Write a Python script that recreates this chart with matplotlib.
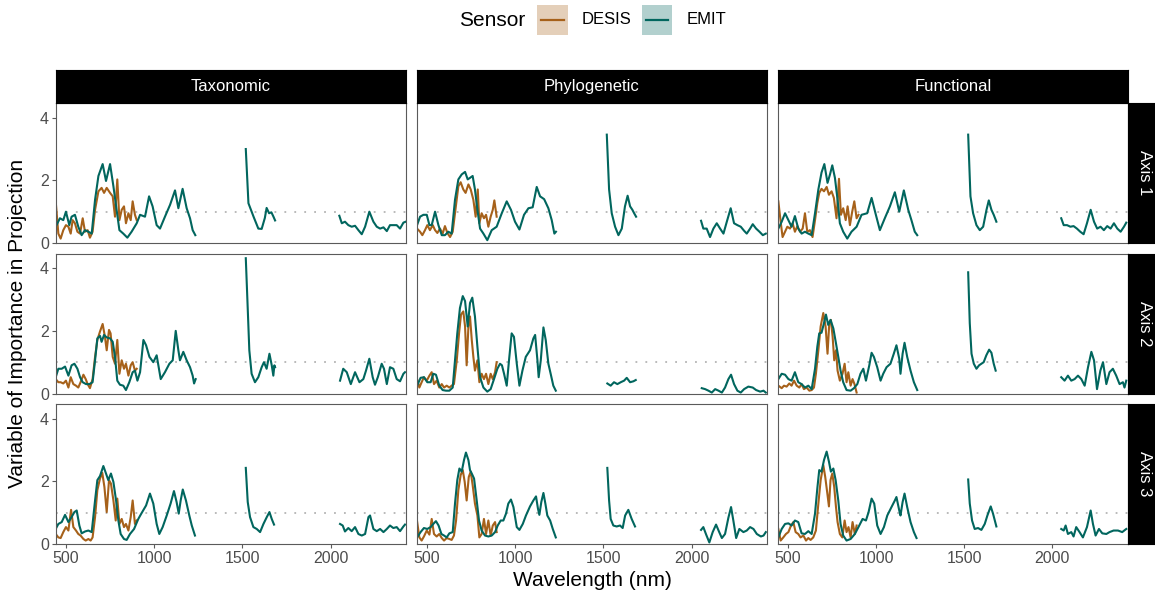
import numpy as np
import matplotlib
matplotlib.use("Agg")
from matplotlib import pyplot as plt
from matplotlib.patches import Rectangle
from matplotlib.lines import Line2D

plt.rcParams['font.family'] = ['Liberation Sans', 'DejaVu Sans']

metrics = ["Taxonomic", "Phylogenetic", "Functional"]
pls_axes = ["Axis 1", "Axis 2", "Axis 3"]
sensors = ["DESIS", "EMIT"]
sensor_colors = ["#a6611a", "#01665e"]
x_ticks = [500, 1000, 1500, 2000]
y_ticks = [0, 2, 4]
vip_threshold = 1.0

# ---- Taxonomic ----
tax1_emit_nm = [443, 467, 486, 501, 520, 533, 552, 571, 590, 609, 628, 647, 666, 685, 709, 728, 751, 770, 788, 804,
                826, 849, 873, 902, 921, 949, 972, 992, 1015, 1034, 1062, 1091, 1119, 1138, 1162, 1185, 1204, 1219, 1234,
                1520, 1535, 1564, 1591, 1610, 1628, 1638, 1652, 1665, 1676, 1686,
                2050, 2064, 2082, 2101, 2120, 2139, 2158, 2177, 2196, 2220, 2243, 2262, 2281, 2300, 2319, 2337, 2356,
                2375, 2394, 2413, 2426]
tax1_emit_vip = [0.52, 0.79, 0.73, 1.00, 0.57, 0.84, 0.90, 0.52, 0.25, 0.41, 0.36, 0.30, 1.38, 2.14, 2.52, 1.98, 2.52,
                 1.81, 1.06, 0.41, 0.30, 0.17, 0.36, 0.63, 0.90, 0.84, 1.49, 1.17, 0.57, 0.46, 0.84, 1.22, 1.68, 1.11,
                 1.73, 1.11, 0.79, 0.41, 0.25,
                 3.00, 1.27, 0.84, 0.46, 0.45, 0.80, 1.12, 0.95, 0.98, 0.85, 0.72,
                 0.87, 0.63, 0.68, 0.57, 0.52, 0.55, 0.41, 0.28, 0.52, 1.00, 0.68, 0.52, 0.46, 0.50, 0.38, 0.57, 0.57,
                 0.57, 0.46, 0.65, 0.68]
tax1_desis_nm = [443, 458, 471, 486, 501, 515, 528, 539, 552, 566, 581, 596, 609, 624, 637, 652, 666, 685, 703, 717,
                 732, 751, 766, 779, 792, 804, 817, 830, 841, 855, 868, 879, 892, 902]
tax1_desis_vip = [1.33, 0.30, 0.14, 0.41, 0.57, 0.52, 0.30, 0.73, 0.63, 0.36, 0.30, 0.79, 0.36, 0.41, 0.17, 0.36,
                  1.06, 1.65, 1.76, 1.60, 1.76, 1.60, 1.49, 0.84, 2.03, 0.73, 1.06, 1.17, 0.63, 0.95, 0.73, 1.33,
                  0.90, 0.73]

tax2_emit_nm = [443, 458, 477, 496, 515, 533, 549, 566, 581, 596, 615, 634, 652, 666, 679, 694, 703, 717, 732, 751,
                766, 779, 792, 807, 826, 841, 860, 879, 892, 906, 921, 940, 955, 974, 996, 1015, 1038, 1062, 1087,
                1106, 1123, 1138, 1147, 1166, 1185, 1204, 1219, 1227, 1236,
                1520, 1529, 1540, 1553, 1572, 1591, 1610, 1623, 1638, 1654, 1667, 1676, 1682, 1686,
                2054, 2072, 2092, 2115, 2139, 2164, 2186, 2201, 2220, 2239, 2252, 2268, 2290, 2303, 2319, 2337, 2356,
                2375, 2394, 2413, 2422]
tax2_emit_vip = [0.52, 0.79, 0.79, 0.86, 0.57, 0.90, 0.95, 0.79, 0.52, 0.36, 0.30, 0.30, 0.36, 1.06, 1.76, 1.84, 1.65,
                 1.87, 1.79, 1.76, 1.65, 1.17, 0.41, 0.28, 0.25, 0.11, 0.36, 0.68, 0.73, 0.41, 0.68, 1.71, 1.54, 1.17,
                 1.00, 1.22, 0.46, 0.68, 0.95, 1.06, 2.00, 1.38, 1.06, 1.33, 1.06, 0.84, 0.57, 0.32, 0.46,
                 4.32, 3.00, 1.38, 0.63, 0.36, 0.52, 0.84, 1.00, 0.79, 1.27, 0.90, 0.57, 0.90, 0.84,
                 0.41, 0.79, 0.68, 0.30, 0.68, 0.36, 0.46, 0.73, 1.11, 0.52, 0.28, 0.52, 0.95, 0.79, 0.30, 0.84, 0.79,
                 0.46, 0.39, 0.63, 0.68]
tax2_desis_nm = [443, 458, 471, 486, 501, 515, 528, 543, 558, 571, 584, 600, 613, 624, 637, 652, 666, 679, 694, 709,
                 722, 732, 745, 754, 766, 779, 792, 804, 817, 830, 841, 855, 868, 879, 892, 902]
tax2_desis_vip = [0.46, 0.36, 0.36, 0.32, 0.41, 0.19, 0.52, 0.30, 0.25, 0.19, 0.36, 0.60, 0.46, 0.30, 0.17, 0.46,
                  1.17, 1.71, 1.98, 2.22, 1.81, 1.38, 2.03, 1.92, 1.17, 0.95, 1.71, 0.63, 1.06, 0.79, 0.95, 0.57,
                  0.90, 1.00, 0.73, 0.79]

tax3_emit_nm = [443, 458, 477, 496, 515, 533, 549, 562, 577, 590, 609, 628, 647, 666, 679, 694, 713, 728, 741, 756,
                770, 785, 798, 811, 830, 845, 864, 887, 911, 930, 955, 977, 996, 1015, 1030, 1049, 1072, 1094, 1113,
                1128, 1140, 1151, 1163, 1181, 1200, 1214, 1232,
                1520, 1531, 1544, 1563, 1582, 1601, 1620, 1639, 1654, 1667, 1680,
                2054, 2069, 2082, 2101, 2120, 2139, 2158, 2177, 2196, 2215, 2224, 2243, 2262, 2281, 2300, 2319, 2337,
                2356, 2375, 2394, 2413, 2422]
tax3_emit_vip = [0.48, 0.64, 0.70, 0.93, 0.70, 0.86, 1.02, 1.07, 0.59, 0.34, 0.40, 0.43, 0.38, 1.39, 2.04, 2.17, 2.49,
                 2.25, 2.04, 2.25, 1.98, 1.39, 0.75, 0.32, 0.16, 0.13, 0.32, 0.48, 0.80, 0.99, 1.23, 1.61, 1.29, 0.64,
                 0.32, 0.54, 0.91, 1.29, 1.69, 1.34, 0.97, 1.39, 1.74, 1.39, 0.91, 0.59, 0.27,
                 2.43, 1.34, 0.86, 0.54, 0.48, 0.38, 0.64, 0.86, 1.02, 0.80, 0.62,
                 0.64, 0.59, 0.40, 0.51, 0.41, 0.54, 0.32, 0.27, 0.32, 0.86, 0.91, 0.48, 0.41, 0.48, 0.38, 0.48, 0.59,
                 0.51, 0.54, 0.41, 0.56, 0.62]
tax3_desis_nm = [443, 458, 471, 486, 501, 515, 530, 543, 558, 571, 584, 600, 613, 628, 641, 652, 666, 679, 694, 707,
                 719, 732, 745, 756, 770, 783, 792, 804, 817, 830, 841, 855, 868, 879, 892, 902]
tax3_desis_vip = [0.32, 0.21, 0.19, 0.38, 0.54, 0.43, 1.09, 0.54, 0.43, 0.32, 0.27, 0.16, 0.11, 0.16, 0.11, 0.21,
                  0.86, 1.72, 2.09, 2.27, 1.82, 1.02, 2.04, 1.93, 1.39, 0.75, 1.45, 0.64, 0.80, 0.54, 0.64, 0.43,
                  0.86, 1.39, 0.64, 0.75]

# ---- Phylogenetic ----
phy1_emit_nm = [445, 462, 481, 500, 515, 528, 547, 566, 585, 603, 622, 641, 660, 679, 698, 717, 732, 745, 760, 773,
                787, 802, 821, 843, 868, 896, 925, 953, 977, 1000, 1025, 1051, 1076, 1100, 1123, 1142, 1165, 1189,
                1208, 1223, 1232,
                1520, 1533, 1548, 1567, 1586, 1605, 1623, 1638, 1652, 1665, 1675, 1686,
                2054, 2067, 2086, 2105, 2124, 2143, 2162, 2181, 2200, 2222, 2241, 2260, 2279, 2298, 2313, 2332, 2347,
                2366, 2385, 2404, 2421]
phy1_emit_vip = [0.57, 0.84, 0.90, 0.90, 0.57, 0.57, 1.00, 0.57, 0.25, 0.25, 0.36, 0.30, 1.38, 2.03, 2.19, 2.27, 2.03,
                 2.08, 2.14, 1.71, 1.06, 0.46, 0.30, 0.09, 0.41, 0.52, 0.95, 1.33, 1.06, 0.68, 0.43, 0.90, 1.11, 1.14,
                 1.79, 1.49, 1.40, 1.11, 0.73, 0.30, 0.36,
                 3.46, 1.71, 0.95, 0.52, 0.25, 0.46, 1.17, 1.51, 1.17, 1.06, 0.95, 0.84,
                 0.71, 0.46, 0.46, 0.19, 0.46, 0.63, 0.46, 0.30, 0.68, 1.11, 0.63, 0.57, 0.52, 0.39, 0.30, 0.46, 0.60,
                 0.46, 0.36, 0.25, 0.30]
phy1_desis_nm = [445, 462, 475, 490, 503, 518, 534, 547, 560, 575, 590, 603, 617, 632, 647, 660, 679, 692, 707, 720,
                 736, 749, 764, 777, 789, 798, 811, 824, 836, 849, 862, 874, 883, 896]
phy1_desis_vip = [0.46, 0.36, 0.25, 0.41, 0.57, 0.41, 0.57, 0.41, 0.32, 0.46, 0.30, 0.54, 0.32, 0.19, 0.36, 0.95,
                  1.81, 1.94, 1.71, 1.60, 1.87, 1.71, 1.38, 0.84, 1.71, 0.63, 0.95, 0.79, 0.90, 0.52, 0.84, 1.06,
                  1.36, 0.84]

phy2_emit_nm = [445, 465, 484, 503, 522, 537, 552, 571, 590, 609, 628, 647, 660, 673, 688, 704, 717, 732, 745, 758,
                773, 787, 802, 821, 843, 862, 881, 900, 915, 926, 938, 953, 966, 981, 994, 1010, 1025, 1042, 1061,
                1085, 1104, 1114, 1127, 1134, 1146, 1161, 1174, 1189, 1202, 1217, 1231,
                1523, 1542, 1561, 1580, 1599, 1618, 1633, 1652, 1671, 1684,
                2058, 2077, 2096, 2115, 2134, 2153, 2172, 2190, 2209, 2224, 2241, 2260, 2279, 2298, 2322, 2347, 2366,
                2389, 2408, 2421]
phy2_emit_vip = [0.25, 0.50, 0.52, 0.36, 0.36, 0.63, 0.60, 0.25, 0.11, 0.09, 0.09, 0.19, 1.06, 1.92, 2.73, 3.11, 2.95,
                 2.14, 2.89, 3.06, 2.46, 1.49, 0.52, 0.19, 0.06, 0.14, 0.46, 0.79, 0.95, 0.90, 0.63, 0.25, 1.06, 1.92,
                 1.81, 0.95, 0.25, 0.73, 1.17, 1.38, 1.76, 1.87, 1.06, 0.52, 1.06, 2.11, 1.71, 0.95, 0.63, 0.25, 0.09,
                 0.32, 0.25, 0.36, 0.30, 0.36, 0.41, 0.50, 0.36, 0.39, 0.43,
                 0.17, 0.14, 0.09, 0.03, 0.14, 0.09, 0.03, 0.19, 0.46, 0.60, 0.30, 0.09, 0.03, 0.14, 0.22, 0.19, 0.11,
                 0.06, 0.09, 0.03]
phy2_desis_nm = [445, 458, 471, 484, 500, 515, 528, 541, 556, 571, 585, 598, 613, 628, 641, 654, 670, 683, 694, 707,
                 717, 726, 736, 745, 755, 764, 773, 787, 798, 811, 824, 836, 849, 862, 874, 887, 896]
phy2_desis_vip = [0.46, 0.19, 0.36, 0.52, 0.41, 0.57, 0.68, 0.30, 0.41, 0.19, 0.30, 0.19, 0.25, 0.19, 0.25, 0.30,
                  1.06, 1.92, 2.52, 2.62, 2.14, 0.90, 2.14, 2.46, 1.71, 1.17, 0.73, 1.06, 0.36, 0.63, 0.46, 0.63,
                  0.30, 0.63, 0.46, 0.68, 1.00]

phy3_emit_nm = [445, 465, 484, 503, 522, 537, 552, 567, 583, 598, 613, 628, 647, 660, 673, 685, 698, 711, 722, 736,
                745, 755, 768, 783, 796, 811, 830, 849, 868, 887, 902, 919, 934, 949, 962, 977, 991, 1010, 1025, 1044,
                1062, 1085, 1104, 1119, 1130, 1138, 1149, 1161, 1172, 1183, 1199, 1214, 1231,
                1523, 1533, 1542, 1557, 1576, 1595, 1610, 1624, 1642, 1661, 1680,
                2054, 2067, 2083, 2101, 2120, 2139, 2157, 2172, 2190, 2209, 2224, 2237, 2253, 2271, 2294, 2313, 2332,
                2351, 2370, 2393, 2408, 2421]
phy3_emit_vip = [0.21, 0.38, 0.51, 0.48, 0.54, 0.64, 0.73, 0.59, 0.32, 0.27, 0.21, 0.34, 0.38, 1.29, 2.04, 2.41, 2.31,
                 2.68, 2.92, 2.68, 2.36, 2.25, 2.09, 1.39, 0.75, 0.43, 0.27, 0.24, 0.27, 0.38, 0.59, 0.75, 0.75, 0.97,
                 1.29, 1.42, 1.18, 0.54, 0.45, 0.64, 0.91, 1.20, 1.39, 1.52, 1.13, 0.93, 1.34, 1.63, 1.29, 0.91, 0.75,
                 0.48, 0.21,
                 2.43, 1.39, 0.80, 0.59, 0.56, 0.59, 0.51, 0.91, 1.09, 0.80, 0.56,
                 0.45, 0.54, 0.30, 0.05, 0.38, 0.62, 0.38, 0.19, 0.32, 0.84, 1.18, 0.75, 0.19, 0.48, 0.38, 0.43, 0.54,
                 0.48, 0.32, 0.24, 0.27, 0.38]
phy3_desis_nm = [445, 458, 471, 484, 500, 515, 528, 541, 556, 571, 585, 598, 613, 628, 641, 654, 666, 679, 692, 704,
                 715, 726, 738, 749, 760, 773, 787, 798, 811, 824, 836, 849, 862, 874, 887, 896]
phy3_desis_vip = [0.73, 0.21, 0.11, 0.24, 0.43, 0.30, 0.80, 0.32, 0.24, 0.32, 0.19, 0.11, 0.19, 0.16, 0.13, 0.27,
                  0.75, 1.72, 2.20, 2.36, 1.98, 1.39, 2.14, 2.31, 1.88, 1.29, 0.91, 0.21, 0.32, 0.80, 0.32, 0.75,
                  0.27, 0.59, 0.70, 0.38]

# ---- Functional ----
fun1_emit_nm = [445, 464, 483, 502, 520, 539, 558, 577, 596, 615, 634, 653, 672, 690, 706, 724, 738, 751, 766, 781,
                794, 813, 836, 860, 889, 917, 949, 974, 996, 1021, 1049, 1078, 1106, 1131, 1157, 1182, 1200, 1219, 1233,
                1522, 1535, 1550, 1569, 1588, 1607, 1626, 1639, 1654, 1667, 1682,
                2050, 2064, 2083, 2102, 2120, 2139, 2158, 2177, 2196, 2217, 2236, 2254, 2273, 2292, 2311, 2330, 2349,
                2368, 2387, 2406, 2419]
fun1_emit_vip = [0.46, 0.68, 0.95, 0.73, 0.52, 0.86, 0.46, 0.30, 0.36, 0.30, 0.25, 0.95, 1.71, 2.25, 2.52, 1.92, 2.19,
                 2.48, 2.08, 1.38, 0.63, 0.36, 0.14, 0.36, 0.52, 0.90, 0.95, 1.44, 0.95, 0.41, 0.79, 1.17, 1.62, 1.00,
                 1.68, 1.06, 0.73, 0.36, 0.25,
                 3.46, 1.49, 0.95, 0.57, 0.41, 0.52, 1.06, 1.36, 1.06, 0.90, 0.68,
                 0.79, 0.57, 0.57, 0.52, 0.54, 0.46, 0.36, 0.28, 0.63, 1.06, 0.68, 0.46, 0.52, 0.41, 0.54, 0.46, 0.63,
                 0.46, 0.36, 0.52, 0.65]
fun1_desis_nm = [445, 458, 469, 483, 496, 511, 526, 539, 553, 568, 583, 596, 609, 624, 639, 653, 666, 677, 690, 704,
                 719, 732, 747, 760, 775, 789, 800, 813, 827, 838, 851, 864, 876, 889, 900]
fun1_desis_vip = [1.33, 0.68, 0.19, 0.36, 0.52, 0.46, 0.63, 0.36, 0.54, 0.36, 0.46, 0.95, 0.36, 0.41, 0.19, 0.73,
                  1.27, 1.60, 1.73, 1.65, 1.79, 1.54, 1.65, 1.44, 0.79, 2.05, 0.90, 1.11, 0.73, 1.17, 0.57, 1.00,
                  1.33, 0.79, 0.90]

fun2_emit_nm = [445, 464, 483, 502, 520, 539, 558, 577, 596, 615, 634, 653, 666, 677, 690, 704, 715, 728, 741, 757,
                772, 785, 798, 813, 832, 855, 874, 893, 911, 927, 942, 961, 974, 987, 1006, 1025, 1040, 1059, 1081,
                1100, 1115, 1131, 1138, 1150, 1161, 1176, 1195, 1214, 1233,
                1522, 1531, 1541, 1554, 1569, 1584, 1597, 1610, 1625, 1641, 1654, 1667, 1678,
                2050, 2069, 2088, 2107, 2126, 2145, 2164, 2183, 2202, 2221, 2236, 2253, 2272, 2287, 2306, 2324, 2343,
                2362, 2381, 2400, 2409, 2419]
fun2_emit_vip = [0.46, 0.63, 0.60, 0.46, 0.41, 0.68, 0.36, 0.30, 0.19, 0.25, 0.14, 0.79, 1.49, 1.92, 1.94, 2.25, 2.52,
                 2.19, 2.35, 2.08, 1.60, 1.17, 0.73, 0.36, 0.11, 0.09, 0.17, 0.30, 0.63, 0.79, 0.41, 0.90, 1.30, 1.17,
                 0.84, 0.41, 0.63, 0.84, 0.95, 1.27, 1.54, 1.11, 0.63, 1.27, 1.62, 1.17, 0.73, 0.36, 0.11,
                 3.87, 2.25, 1.27, 0.95, 0.79, 0.90, 0.95, 1.00, 1.22, 1.40, 1.30, 0.95, 0.73,
                 0.52, 0.41, 0.57, 0.41, 0.46, 0.57, 0.46, 0.25, 0.84, 1.33, 1.06, 0.14, 0.73, 1.00, 0.30, 0.68, 0.79,
                 0.57, 0.30, 0.36, 0.19, 0.41]
fun2_desis_nm = [445, 464, 477, 492, 507, 520, 534, 549, 564, 577, 590, 605, 621, 634, 647, 658, 672, 685, 700, 713,
                 724, 734, 743, 753, 762, 772, 781, 794, 809, 821, 832, 842, 855, 866, 877, 889]
fun2_desis_vip = [0.25, 0.17, 0.25, 0.22, 0.32, 0.25, 0.41, 0.25, 0.19, 0.30, 0.14, 0.19, 0.09, 0.11, 0.19, 0.63,
                  1.38, 2.14, 2.57, 2.14, 1.27, 2.25, 2.35, 1.81, 1.06, 1.38, 0.73, 0.41, 0.63, 0.95, 0.36, 0.68,
                  0.25, 0.46, 0.30, 0.03]

fun3_emit_nm = [445, 464, 483, 502, 520, 539, 558, 577, 596, 615, 634, 653, 666, 677, 690, 704, 719, 732, 743, 757,
                770, 785, 798, 813, 832, 855, 879, 904, 923, 942, 957, 974, 989, 1006, 1025, 1044, 1063, 1087, 1106,
                1115, 1131, 1138, 1150, 1161, 1176, 1195, 1214, 1229,
                1522, 1531, 1544, 1559, 1578, 1597, 1616, 1631, 1650, 1663, 1682,
                2050, 2064, 2075, 2088, 2107, 2120, 2135, 2154, 2173, 2196, 2217, 2230, 2245, 2264, 2283, 2306, 2324,
                2347, 2372, 2396, 2419]
fun3_emit_vip = [0.21, 0.48, 0.64, 0.66, 0.59, 0.75, 0.70, 0.34, 0.32, 0.41, 0.32, 0.97, 1.77, 2.36, 2.31, 2.68, 2.95,
                 2.63, 2.31, 2.41, 2.04, 1.39, 0.64, 0.27, 0.11, 0.16, 0.32, 0.59, 0.80, 0.75, 1.02, 1.45, 1.29, 0.59,
                 0.32, 0.54, 0.91, 1.18, 1.39, 1.50, 1.07, 0.91, 1.34, 1.61, 1.18, 0.70, 0.38, 0.19,
                 2.06, 1.29, 0.75, 0.48, 0.51, 0.45, 0.64, 0.91, 1.20, 0.97, 0.56,
                 0.48, 0.43, 0.59, 0.32, 0.38, 0.24, 0.54, 0.38, 0.21, 0.54, 1.07, 0.64, 0.27, 0.48, 0.34, 0.32, 0.38,
                 0.43, 0.43, 0.38, 0.48]
fun3_desis_nm = [445, 458, 473, 488, 502, 517, 530, 543, 558, 571, 587, 602, 615, 628, 643, 658, 672, 685, 700, 711,
                 723, 732, 741, 751, 762, 772, 781, 794, 808, 821, 832, 843, 855, 866, 879, 889]
fun3_desis_vip = [0.48, 0.11, 0.21, 0.32, 0.38, 0.59, 0.70, 0.38, 0.32, 0.21, 0.27, 0.11, 0.19, 0.13, 0.21, 0.43,
                  1.29, 2.04, 2.52, 2.14, 1.61, 1.20, 2.04, 2.25, 1.82, 1.18, 0.70, 0.32, 0.21, 0.75, 0.38, 0.54,
                  0.21, 0.70, 0.32, 0.59]

# (row, col) -> [(desis nm, desis vip), (emit nm, emit vip)]
panels = {
    (0, 0): [(tax1_desis_nm, tax1_desis_vip), (tax1_emit_nm, tax1_emit_vip)],
    (1, 0): [(tax2_desis_nm, tax2_desis_vip), (tax2_emit_nm, tax2_emit_vip)],
    (2, 0): [(tax3_desis_nm, tax3_desis_vip), (tax3_emit_nm, tax3_emit_vip)],
    (0, 1): [(phy1_desis_nm, phy1_desis_vip), (phy1_emit_nm, phy1_emit_vip)],
    (1, 1): [(phy2_desis_nm, phy2_desis_vip), (phy2_emit_nm, phy2_emit_vip)],
    (2, 1): [(phy3_desis_nm, phy3_desis_vip), (phy3_emit_nm, phy3_emit_vip)],
    (0, 2): [(fun1_desis_nm, fun1_desis_vip), (fun1_emit_nm, fun1_emit_vip)],
    (1, 2): [(fun2_desis_nm, fun2_desis_vip), (fun2_emit_nm, fun2_emit_vip)],
    (2, 2): [(fun3_desis_nm, fun3_desis_vip), (fun3_emit_nm, fun3_emit_vip)],
}


def with_gaps(nm, vip, max_step=150):
    # break the line across the water absorption bands
    nm = np.asarray(nm, dtype=float)
    vip = np.asarray(vip, dtype=float)
    breaks = np.where(np.diff(nm) > max_step)[0] + 1
    return np.insert(nm, breaks, np.nan), np.insert(vip, breaks, np.nan)


W, H = 1155, 602
fig = plt.figure(figsize=(W / 100, H / 100), dpi=100)


def frac(x0, y0, x1, y1):
    # pixel box (top-left origin) -> figure fraction rect
    return [x0 / W, 1 - y1 / H, (x1 - x0) / W, (y1 - y0) / H]


col_x = [(55.7, 405.7), (416.7, 766.7), (778.0, 1127.5)]
row_y = [(103.0, 243.0), (253.5, 393.5), (404.0, 544.0)]
border = "#5a5a5a"
tick_col = "#4d4d4d"

for (r, c), series in panels.items():
    x0, x1 = col_x[c]
    y0, y1 = row_y[r]
    ax = fig.add_axes(frac(x0, y0, x1, y1))
    ax.axhline(vip_threshold, color="#b4b4b4", lw=1.3, ls=(0, (1, 4.5)), zorder=1)
    for (nm, vip), color in zip(series, sensor_colors):
        xs, ys = with_gaps(nm, vip)
        ax.plot(xs, ys, color=color, lw=1.5, solid_joinstyle="round", zorder=2)
    ax.set_xlim(443, 2426)
    ax.set_ylim(0, 4.47)
    ax.set_xticks(x_ticks)
    ax.set_yticks(y_ticks)
    for s in ax.spines.values():
        s.set_color(border)
        s.set_linewidth(0.8)
    ax.tick_params(colors=border, labelcolor=tick_col, labelsize=11.5, length=3, width=0.8, pad=2)
    if c != 0:
        ax.tick_params(axis="y", left=False, labelleft=False)
    if r != 2:
        ax.tick_params(axis="x", bottom=False, labelbottom=False)

# facet strips
for c, name in enumerate(metrics):
    x0, x1 = col_x[c]
    sax = fig.add_axes(frac(x0, 69.5, x1, 103.0))
    sax.set_facecolor("black")
    sax.set_xticks([]); sax.set_yticks([])
    sax.text(0.5, 0.5, name, color="white", fontsize=12, ha="center", va="center", transform=sax.transAxes)
for r, name in enumerate(pls_axes):
    y0, y1 = row_y[r]
    sax = fig.add_axes(frac(1127.5, y0, 1161.0, y1))
    sax.set_facecolor("black")
    sax.set_xticks([]); sax.set_yticks([])
    sax.text(0.5, 0.5, name, color="white", fontsize=12, ha="center", va="center", rotation=-90,
             transform=sax.transAxes)

# axis titles
fig.text(592 / W, 1 - 580 / H, "Wavelength (nm)", fontsize=15, ha="center", va="center")
fig.text(18 / W, 1 - 323.5 / H, "Variable of Importance in Projection", fontsize=15, ha="center", va="center",
         rotation=90)

# legend
fig.text(459 / W, 1 - 20 / H, "Sensor", fontsize=15, ha="left", va="center")
key_boxes = [(537, 568), (642, 672)]
key_labels_x = [582, 687]
for (kx0, kx1), color, label, lx in zip(key_boxes, sensor_colors, sensors, key_labels_x):
    fig.patches.append(Rectangle((kx0 / W, 1 - 35 / H), (kx1 - kx0) / W, 30 / H, transform=fig.transFigure,
                                 facecolor=color, alpha=0.3, edgecolor="none"))
    fig.lines.append(Line2D([(kx0 + 4) / W, (kx1 - 4) / W], [1 - 20 / H, 1 - 20 / H], transform=fig.transFigure,
                            color=color, lw=1.6))
    fig.text(lx / W, 1 - 20 / H, label, fontsize=12, ha="left", va="center")

fig.savefig("out.png", dpi=100)
